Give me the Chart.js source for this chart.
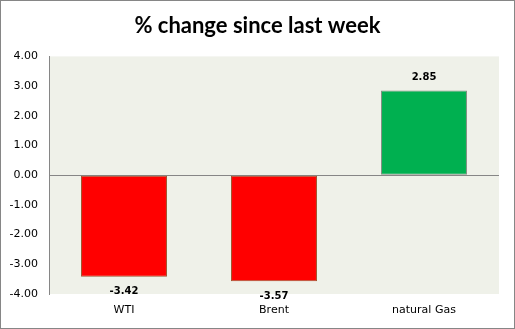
<!DOCTYPE html>
<html>
<head>
<meta charset="utf-8">
<script src="https://cdn.jsdelivr.net/npm/chart.js@4.4.1/dist/chart.umd.min.js"></script>
<style>
    body { margin: 0; background: #fff; }
    #wrap { width: 513px; height: 327px; border: 1px solid #868686; }
</style>
</head>
<body>
<div id="wrap"><canvas id="chart" width="513" height="327"></canvas></div>
<script>
const categories = ['WTI', 'Brent', 'natural Gas'];
const changes = [-3.42, -3.57, 2.85];
const barColors = ['#ff0000', '#ff0000', '#00b050'];
const barBorders = ['#a0522d', '#a0522d', '#7f8f80'];
const yMin = -4;
const yMax = 4;
const yStep = 1;

// plot area fill, drawn before the bars
const plotBackground = {
    id: 'plotBackground',
    beforeDraw(chart) {
        const { ctx, chartArea } = chart;
        ctx.save();
        ctx.fillStyle = '#eff1e9';
        ctx.fillRect(chartArea.left, chartArea.top, chartArea.right - chartArea.left, chartArea.bottom - chartArea.top);
        ctx.restore();
    }
};

// bold value above / below each bar
const valueLabels = {
    id: 'valueLabels',
    afterDatasetsDraw(chart) {
        const { ctx } = chart;
        const meta = chart.getDatasetMeta(0);
        ctx.save();
        ctx.font = 'bold 10px "DejaVu Sans"';
        ctx.fillStyle = '#000';
        ctx.textAlign = 'center';
        ctx.textBaseline = 'middle';
        meta.data.forEach((bar, i) => {
            const v = changes[i];
            const y = v < 0 ? bar.y + 15 : bar.y - 13;
            ctx.fillText(v.toFixed(2), bar.x, y);
        });
        ctx.restore();
    }
};

new Chart(document.getElementById('chart'), {
    type: 'bar',
    data: {
        labels: categories,
        datasets: [{
            data: changes,
            backgroundColor: barColors,
            borderColor: barBorders,
            borderWidth: 1,
            borderSkipped: false,
            barPercentage: 0.573,
            categoryPercentage: 1
        }]
    },
    options: {
        responsive: false,
        animation: false,
        layout: { padding: 0 },
        plugins: {
            legend: { display: false },
            tooltip: { enabled: false },
            title: {
                display: true,
                text: '% change since last week',
                color: '#000',
                font: { family: 'Lato', size: 22, weight: 'bold', lineHeight: 1.2 },
                padding: { top: 12, bottom: 17 }
            }
        },
        scales: {
            x: {
                grid: { display: false, drawTicks: false },
                border: { display: false },
                ticks: { color: '#000', font: { family: 'DejaVu Sans', size: 11 }, padding: 10 },
                afterFit(scale) { scale.height = 34; }
            },
            y: {
                min: yMin,
                max: yMax,
                grid: {
                    drawTicks: false,
                    color: (c) => c.tick && c.tick.value === 0 ? '#868686' : 'rgba(0,0,0,0)'
                },
                border: { display: true, color: '#868686' },
                ticks: {
                    stepSize: yStep,
                    color: '#000',
                    font: { family: 'DejaVu Sans', size: 11 },
                    padding: 11,
                    callback: (v) => v.toFixed(2)
                },
                afterFit(scale) { scale.width = 48; }
            },
            // empty right margin so the title stays centred on the whole box
            yRight: {
                position: 'right',
                min: yMin,
                max: yMax,
                grid: { display: false, drawTicks: false },
                border: { display: false },
                ticks: { display: false },
                afterFit(scale) { scale.width = 15; }
            }
        }
    },
    plugins: [plotBackground, valueLabels]
});
</script>
</body>
</html>
